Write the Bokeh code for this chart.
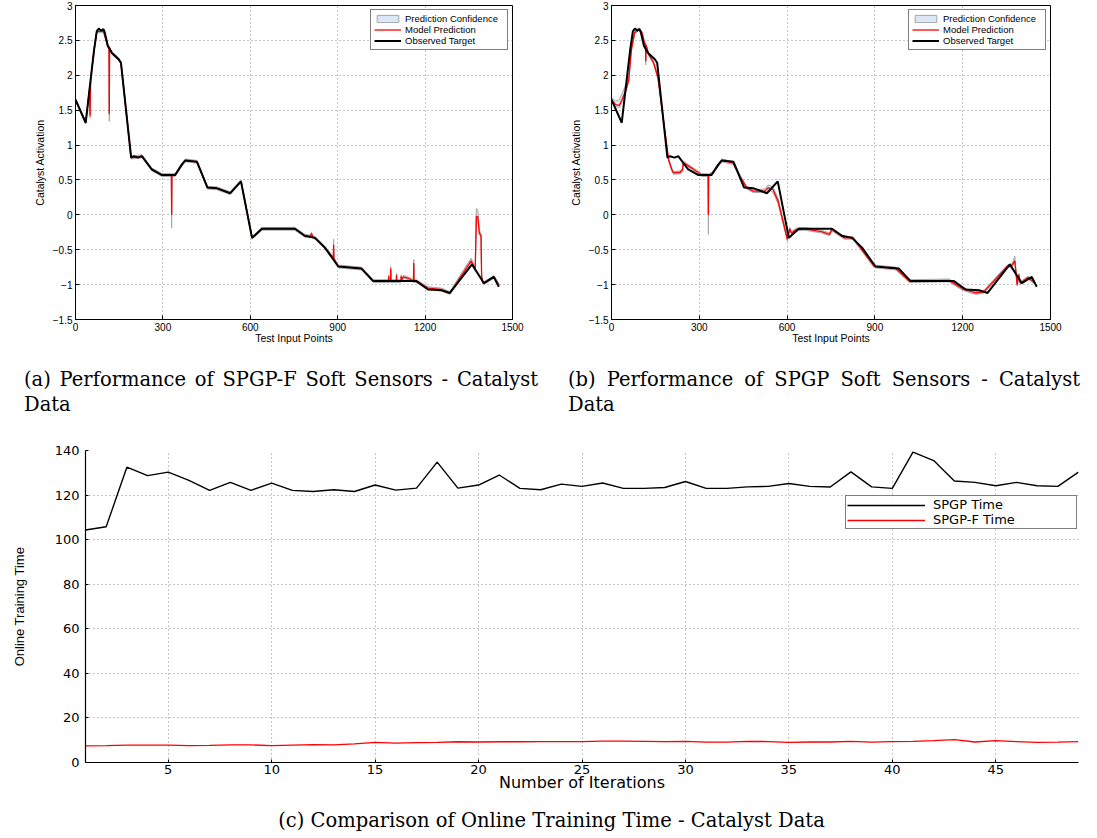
from bokeh.plotting import figure
from bokeh.models import Range1d, CustomJSTickFormatter, Legend, LegendItem, Div
from bokeh.layouts import column, row
from bokeh.embed import file_html
from bokeh.resources import INLINE

# ---------------- data: observed target (shared by panels a and b) ----------------
obs_x = [0, 35, 52, 64, 73, 80, 88, 96, 100, 111, 125, 148, 156, 191, 200, 215, 228, 262, 297, 342,
         365, 377, 395, 417, 453, 486, 531, 568, 606, 640, 753, 787, 822, 856, 902, 982, 1022, 1170,
         1210, 1256, 1285, 1361, 1402, 1436, 1453]
obs_y = [1.65, 1.32, 1.94, 2.37, 2.63, 2.67, 2.64, 2.66, 2.62, 2.42, 2.32, 2.23, 2.18, 0.82, 0.84, 0.82,
         0.84, 0.65, 0.57, 0.57, 0.72, 0.78, 0.77, 0.76, 0.39, 0.38, 0.31, 0.48, -0.33, -0.20, -0.20,
         -0.30, -0.33, -0.47, -0.74, -0.77, -0.95, -0.95, -1.07, -1.08, -1.12, -0.71, -0.98, -0.89, -1.03]

# ---------------- panel (a): SPGP-F prediction and confidence spread ----------------
pred_a_x = [0, 35, 48, 50, 52, 64, 73, 96, 111, 115, 116, 117, 125, 148, 156, 191, 228, 262, 297, 329,
            330, 331, 342, 365, 377, 417, 453, 486, 531, 568, 606, 640, 753, 787, 805, 810, 815, 822,
            856, 885, 886, 887, 902, 982, 1022, 1074, 1075, 1076, 1081, 1082, 1083, 1101, 1102, 1103,
            1117, 1118, 1120, 1125, 1135, 1148, 1160, 1161, 1162, 1170, 1210, 1256, 1285, 1358, 1372,
            1376, 1381, 1386, 1392, 1394, 1398, 1402, 1436, 1448, 1453]
pred_a_y = [1.65, 1.32, 1.79, 1.42, 1.94, 2.37, 2.63, 2.63, 2.42, 2.40, 1.44, 2.39, 2.32, 2.23, 2.18, 0.82,
            0.84, 0.65, 0.57, 0.57, 0.00, 0.57, 0.57, 0.72, 0.78, 0.76, 0.39, 0.38, 0.31, 0.48, -0.33,
            -0.20, -0.20, -0.30, -0.31, -0.27, -0.32, -0.33, -0.47, -0.62, -0.43, -0.63, -0.74, -0.77,
            -0.95, -0.95, -0.88, -0.95, -0.95, -0.77, -0.95, -0.95, -0.86, -0.95, -0.95, -0.88, -0.93,
            -0.89, -0.90, -0.92, -0.95, -0.69, -0.95, -0.95, -1.05, -1.07, -1.12, -0.66, -0.78, -0.02,
            -0.03, -0.26, -0.30, -0.88, -0.97, -0.98, -0.89, -0.97, -1.00]
conf_a_up = [0.02, 0.02, 0.02, 0.02, 0.02, 0.02, 0.02, 0.02, 0.02, 0.02, 0.02, 0.02, 0.02, 0.02, 0.02, 0.02,
             0.02, 0.02, 0.02, 0.02, 0.02, 0.02, 0.02, 0.02, 0.02, 0.02, 0.02, 0.02, 0.02, 0.02, 0.02,
             0.02, 0.02, 0.02, 0.02, 0.02, 0.02, 0.02, 0.02, 0.02, 0.08, 0.02, 0.02, 0.02, 0.02, 0.02,
             0.02, 0.02, 0.02, 0.03, 0.02, 0.02, 0.02, 0.02, 0.02, 0.02, 0.02, 0.02, 0.02, 0.02, 0.02,
             0.05, 0.02, 0.02, 0.02, 0.02, 0.02, 0.04, 0.02, 0.11, 0.10, 0.05, 0.03, 0.02, 0.02, 0.02,
             0.02, 0.02, 0.02]
conf_a_dn = [0.02, 0.02, 0.02, 0.03, 0.02, 0.02, 0.02, 0.02, 0.02, 0.02, 0.10, 0.02, 0.02, 0.02, 0.02, 0.02,
             0.02, 0.02, 0.02, 0.02, 0.19, 0.02, 0.02, 0.02, 0.02, 0.02, 0.02, 0.02, 0.02, 0.02, 0.02,
             0.02, 0.02, 0.02, 0.02, 0.02, 0.02, 0.02, 0.02, 0.02, 0.02, 0.02, 0.02, 0.02, 0.02, 0.02,
             0.02, 0.02, 0.02, 0.02, 0.02, 0.02, 0.02, 0.02, 0.02, 0.02, 0.02, 0.02, 0.02, 0.02, 0.02,
             0.02, 0.02, 0.02, 0.02, 0.02, 0.02, 0.02, 0.02, 0.02, 0.02, 0.02, 0.02, 0.02, 0.02, 0.02,
             0.02, 0.02, 0.02]

# ---------------- panel (b): SPGP prediction and confidence spread ----------------
pred_b_x = [0, 14, 27, 36, 50, 59, 68, 79, 93, 104, 113, 116, 117, 118, 127, 144, 159, 195, 206, 212,
            235, 243, 245, 274, 308, 330, 331, 332, 343, 377, 416, 439, 462, 484, 524, 535, 552, 569,
            601, 609, 615, 632, 660, 717, 745, 753, 796, 825, 898, 972, 1017, 1153, 1199, 1244, 1273,
            1352, 1369, 1378, 1386, 1392, 1397, 1423, 1445]
pred_b_y = [1.65, 1.58, 1.57, 1.65, 1.80, 1.94, 2.37, 2.61, 2.66, 2.61, 2.46, 2.44, 2.20, 2.43, 2.30,
            2.18, 1.96, 0.79, 0.65, 0.60, 0.61, 0.65, 0.75, 0.67, 0.57, 0.57, 0.00, 0.57, 0.59, 0.78,
            0.74, 0.55, 0.39, 0.34, 0.34, 0.39, 0.36, 0.20, -0.35, -0.20, -0.26, -0.21, -0.20, -0.24,
            -0.28, -0.21, -0.33, -0.33, -0.74, -0.77, -0.95, -0.94, -1.06, -1.12, -1.10, -0.74, -0.72,
            -0.66, -1.00, -0.86, -0.98, -0.90, -0.97]
conf_b_up = [0.03, 0.05, 0.08, 0.09, 0.07, 0.05, 0.03, 0.02, 0.02, 0.02, 0.02, 0.02, 0.02, 0.02, 0.02,
             0.02, 0.02, 0.02, 0.02, 0.02, 0.02, 0.02, 0.02, 0.02, 0.02, 0.02, 0.02, 0.02, 0.02, 0.02,
             0.02, 0.02, 0.02, 0.02, 0.03, 0.04, 0.04, 0.04, 0.03, 0.02, 0.02, 0.02, 0.02, 0.02, 0.02,
             0.02, 0.02, 0.02, 0.02, 0.02, 0.02, 0.02, 0.02, 0.02, 0.02, 0.02, 0.02, 0.07, 0.02, 0.02,
             0.02, 0.02, 0.02]
conf_b_dn = [0.03, 0.03, 0.03, 0.03, 0.03, 0.03, 0.03, 0.02, 0.02, 0.02, 0.02, 0.02, 0.05, 0.02, 0.02,
             0.02, 0.02, 0.02, 0.02, 0.02, 0.02, 0.02, 0.02, 0.02, 0.02, 0.02, 0.28, 0.02, 0.02, 0.02,
             0.02, 0.02, 0.02, 0.02, 0.02, 0.03, 0.04, 0.04, 0.03, 0.02, 0.02, 0.02, 0.02, 0.02, 0.02,
             0.02, 0.02, 0.02, 0.02, 0.02, 0.02, 0.02, 0.02, 0.02, 0.02, 0.02, 0.02, 0.02, 0.02, 0.02,
             0.02, 0.02, 0.02]

top_x_ticks = [0, 300, 600, 900, 1200, 1500]
top_y_ticks = [-1.5, -1, -0.5, 0, 0.5, 1, 1.5, 2, 2.5, 3]

# ---------------- panel (c): online training time ----------------
iterations = list(range(1, 50))
spgp_time = [104.3, 105.8, 132.5, 128.7, 130.3, 126.6, 122.1, 125.7, 122.1, 125.4, 122.1, 121.6, 122.4,
             121.6, 124.5, 122.2, 123.1, 134.8, 123.1, 124.5, 129.0, 123.0, 122.4, 124.9, 123.9, 125.4,
             123.0, 123.0, 123.4, 126.1, 123.0, 123.0, 123.7, 123.9, 125.2, 123.9, 123.6, 130.4, 123.7,
             123.0, 139.3, 135.5, 126.3, 125.7, 124.2, 125.7, 124.2, 123.9, 130.3]
spgpf_time = [7.5, 7.6, 7.8, 7.8, 7.8, 7.6, 7.7, 7.9, 7.9, 7.6, 7.8, 8.0, 7.9, 8.4, 9.0, 8.7, 8.9, 9.0,
              9.3, 9.2, 9.3, 9.3, 9.4, 9.4, 9.4, 9.6, 9.6, 9.5, 9.4, 9.5, 9.1, 9.1, 9.5, 9.4, 9.0, 9.2,
              9.2, 9.5, 9.1, 9.4, 9.5, 9.8, 10.3, 9.2, 9.8, 9.4, 9.0, 9.1, 9.4]
bottom_x_ticks = [5, 10, 15, 20, 25, 30, 35, 40, 45]
bottom_y_ticks = [0, 20, 40, 60, 80, 100, 120, 140]

SANS = "Liberation Sans"
WIDE = "DejaVu Sans"


def top_panel(px, py, up, dn, frame_w, b_left, b_right):
    p = figure(frame_width=frame_w, frame_height=314,
               min_border_left=b_left, min_border_right=b_right,
               min_border_top=5, min_border_bottom=30,
               x_range=Range1d(0, 1500), y_range=Range1d(-1.5, 3),
               output_backend="svg", toolbar_location=None)
    p.background_fill_color = "white"
    p.border_fill_color = "white"
    p.outline_line_color = "black"
    p.outline_line_width = 1

    band_x = px + px[::-1]
    band_y = [y + u for y, u in zip(py, up)] + [y - d for y, d in zip(py, dn)][::-1]
    band = p.patch(band_x, band_y, fill_color="#dbe6f6", line_color="#a6a6a6", line_width=1)
    red = p.line(px, py, line_color="#ff0000", line_width=1.3)
    blk = p.line(obs_x, obs_y, line_color="black", line_width=2)

    p.xaxis.ticker = top_x_ticks
    p.yaxis.ticker = top_y_ticks
    p.xgrid.ticker = p.xaxis[0].ticker
    p.ygrid.ticker = p.yaxis[0].ticker
    p.yaxis.formatter = CustomJSTickFormatter(
        code="return tick < 0 ? '\\u2212' + (-tick) : '' + tick;")
    for g in (p.xgrid[0], p.ygrid[0]):
        g.grid_line_color = "#8a8a8a"
        g.grid_line_dash = "1 3"
        g.grid_line_width = 1
    for ax in p.axis:
        ax.major_tick_in = 4
        ax.major_tick_out = 0
        ax.minor_tick_line_color = None
        ax.axis_line_color = "black"
        ax.major_tick_line_color = "black"
        ax.major_label_text_font = SANS
        ax.major_label_text_font_size = "10px"
        ax.major_label_text_color = "black"
        ax.major_label_standoff = 3
        ax.axis_label_text_font = SANS
        ax.axis_label_text_font_size = "10.5px"
        ax.axis_label_text_font_style = "normal"
        ax.axis_label_text_color = "black"
    p.xaxis.axis_label = "Test Input Points"
    p.xaxis.axis_label_standoff = -2
    p.yaxis.axis_label = "Catalyst Activation"
    p.yaxis.axis_label_standoff = 4

    leg = Legend(items=[LegendItem(label="Prediction Confidence", renderers=[band]),
                        LegendItem(label="Model Prediction", renderers=[red]),
                        LegendItem(label="Observed Target", renderers=[blk])],
                 location="top_right", margin=4, padding=3, spacing=0,
                 label_text_font=SANS, label_text_font_size="9.5px", label_text_color="black",
                 label_height=10, glyph_height=9, glyph_width=27, label_standoff=4, label_width=99,
                 border_line_color="black", border_line_width=1.5, background_fill_color="white")
    p.add_layout(leg)
    return p


pa = top_panel(pred_a_x, pred_a_y, conf_a_up, conf_a_dn, 437, 75, 54)
pb = top_panel(pred_b_x, pred_b_y, conf_b_up, conf_b_dn, 439, 43, 41)


def caption(text1, text2, width, left):
    html = ("<div style=\"font-family:'DejaVu Serif'; font-size:19.5px; line-height:25px; color:#000;"
            " padding-top:18px; margin-left:%dpx; width:%dpx;\">"
            "<div style=\"text-align:justify; text-align-last:justify;\">%s</div>"
            "<div>%s</div></div>") % (left, width, text1, text2)
    return html


cap_a = Div(text=caption("(a) Performance of SPGP-F Soft Sensors - Catalyst", "Data", 514, 24),
            width=566, height=75, margin=0)
cap_b = Div(text=caption("(b) Performance of SPGP Soft Sensors - Catalyst", "Data", 512, 2),
            width=523, height=75, margin=0)

# ---------------- panel (c) figure ----------------
pc = figure(frame_width=993, frame_height=312, min_border_left=85, min_border_right=11,
            min_border_top=26, min_border_bottom=35,
            x_range=Range1d(1, 49), y_range=Range1d(0, 140),
            output_backend="svg", toolbar_location=None)
pc.background_fill_color = "white"
pc.border_fill_color = "white"
pc.outline_line_color = None
l1 = pc.line(iterations, spgp_time, line_color="black", line_width=1.4)
l2 = pc.line(iterations, spgpf_time, line_color="#ff0000", line_width=1.3)
pc.xaxis.ticker = bottom_x_ticks
pc.yaxis.ticker = bottom_y_ticks
pc.xgrid.ticker = pc.xaxis[0].ticker
pc.ygrid.ticker = pc.yaxis[0].ticker
for g in (pc.xgrid[0], pc.ygrid[0]):
    g.grid_line_color = "#8a8a8a"
    g.grid_line_dash = "1 3"
    g.grid_line_width = 1
for ax in pc.axis:
    ax.major_tick_in = 3
    ax.major_tick_out = 0
    ax.minor_tick_line_color = None
    ax.axis_line_color = "black"
    ax.axis_line_width = 1.2
    ax.major_tick_line_color = "black"
    ax.major_label_text_font = WIDE
    ax.major_label_text_font_size = "13px"
    ax.major_label_text_color = "black"
    ax.axis_label_text_font_style = "normal"
    ax.axis_label_text_color = "black"
pc.yaxis.major_label_standoff = 6
pc.xaxis.major_label_standoff = 2
pc.xaxis.axis_label = "Number of Iterations"
pc.xaxis.axis_label_text_font = WIDE
pc.xaxis.axis_label_text_font_size = "16px"
pc.xaxis.axis_label_standoff = -4
pc.yaxis.axis_label = "Online Training Time"
pc.yaxis.axis_label_text_font = SANS
pc.yaxis.axis_label_text_font_size = "13px"
pc.yaxis.axis_label_standoff = 25

leg_c = Legend(items=[LegendItem(label="SPGP Time", renderers=[l1]),
                      LegendItem(label="SPGP-F Time", renderers=[l2])],
               location=(760, 233), margin=0, padding=1, spacing=0,
               label_text_font=WIDE, label_text_font_size="13px", label_text_color="black",
               label_height=12, glyph_height=12, glyph_width=78, label_standoff=8, label_width=142,
               border_line_color="black", border_line_width=1.3, background_fill_color="white")
pc.add_layout(leg_c)

cap_c = Div(text=("<div style=\"font-family:'DejaVu Serif'; font-size:19.5px; line-height:24px; color:#000;"
                  " padding-top:12px; width:1089px; text-align:center; padding-left:14px;\">"
                  "(c) Comparison of Online Training Time - Catalyst Data</div>"),
            width=1089, height=36, margin=0)

layout = column(row(pa, pb), row(cap_a, cap_b), pc, cap_c)
open("out.html", "w").write(file_html(layout, INLINE))
